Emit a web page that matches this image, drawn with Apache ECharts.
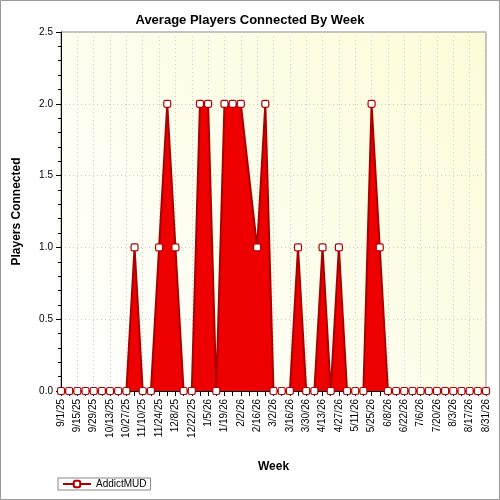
<!DOCTYPE html><html><head><meta charset="utf-8"><script src="https://cdn.jsdelivr.net/npm/echarts@6/dist/echarts.min.js"></script></head><body style="margin:0"><div id="c" style="width:500px;height:500px"></div><script>
const weeks=['9/1/25','9/8/25','9/15/25','9/22/25','9/29/25','10/6/25','10/13/25','10/20/25','10/27/25','11/3/25','11/10/25','11/17/25','11/24/25','12/1/25','12/8/25','12/15/25','12/22/25','12/29/25','1/5/26','1/12/26','1/19/26','1/26/26','2/2/26','2/9/26','2/16/26','2/23/26','3/2/26','3/9/26','3/16/26','3/23/26','3/30/26','4/6/26','4/13/26','4/20/26','4/27/26','5/4/26','5/11/26','5/18/26','5/25/26','6/1/26','6/8/26','6/15/26','6/22/26','6/29/26','7/6/26','7/13/26','7/20/26','7/27/26','8/3/26','8/10/26','8/17/26','8/24/26','8/31/26'];
const players=[0,0,0,0,0,0,0,0,0,1,0,0,1,2,1,0,0,2,2,0,2,2,2,null,1,2,0,0,0,1,0,0,1,0,1,0,0,0,2,1,0,0,0,0,0,0,0,0,0,0,0,0,0];
const yTicks=[0,0.5,1,1.5,2,2.5];
const ch=echarts.init(document.getElementById('c'));
ch.setOption({
 backgroundColor:'#fff',
 graphic:[{type:'rect',shape:{x:0.5,y:0.5,width:499,height:499},style:{fill:'none',stroke:'#999'}}],
 title:{text:'Average Players Connected By Week',left:'center',top:9,textStyle:{fontFamily:'Liberation Sans',fontSize:13,fontWeight:'bold',color:'#000'}},
 legend:{left:58,top:478,itemWidth:28,itemHeight:8,borderColor:'#888',borderWidth:1,padding:[1,4],textStyle:{fontFamily:'Liberation Sans',fontSize:10,color:'#000'},data:['AddictMUD']},
 grid:{left:61,right:14,top:32,bottom:109,show:true,backgroundColor:{type:'linear',x:0,y:1,x2:1,y2:0,colorStops:[{offset:0,color:'#ffffff'},{offset:1,color:'#fdfcd8'}]},borderColor:'#888'},
 xAxis:{type:'category',data:weeks,boundaryGap:false,name:'Week',nameLocation:'middle',nameGap:70,nameTextStyle:{fontFamily:'Liberation Sans',fontWeight:'bold',fontSize:12,color:'#000'},
  axisLine:{lineStyle:{color:'#000'}},axisTick:{interval:0,lineStyle:{color:'#000'}},
  axisLabel:{interval:1,rotate:90,fontFamily:'Liberation Sans',fontSize:10,color:'#000'},
  splitLine:{show:true,interval:1,lineStyle:{color:'#ccc',type:[1,3]}}},
 yAxis:{type:'value',min:0,max:2.5,interval:0.5,name:'Players Connected',nameLocation:'middle',nameGap:38,nameTextStyle:{fontFamily:'Liberation Sans',fontWeight:'bold',fontSize:12,color:'#000'},
  axisLine:{show:true,lineStyle:{color:'#000'}},axisTick:{show:true,lineStyle:{color:'#000'}},minorTick:{show:true,splitNumber:5,lineStyle:{color:'#000'}},
  axisLabel:{fontFamily:'Liberation Sans',fontSize:10,color:'#000',formatter:v=>yTicks.includes(v)?v.toFixed(1):''},
  splitLine:{lineStyle:{color:'#ccc',type:[1,3]}}},
 series:[{name:'AddictMUD',type:'line',data:players,connectNulls:true,symbol:'roundRect',symbolSize:7,showAllSymbol:true,
  itemStyle:{color:'#fff',borderColor:'#b00000',borderWidth:1.2},
  lineStyle:{color:'#aa0000',width:2},areaStyle:{color:'#ee0000',opacity:1}}]
});
</script></body></html>
